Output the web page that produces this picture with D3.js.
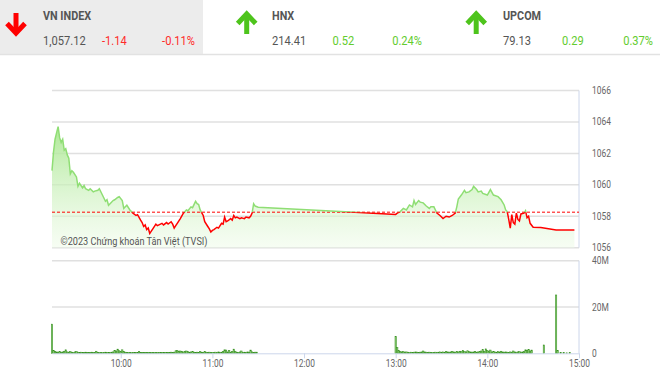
<!DOCTYPE html>
<html>
<head>
<meta charset="utf-8">
<script src="https://cdn.jsdelivr.net/npm/d3@7"></script>
<style>
  body { margin: 0; background: #fff; }
  svg { display: block; }
</style>
</head>
<body>
<svg id="chart" width="660" height="379"></svg>
<script>
const fontFamily = `Roboto, "Noto Sans", sans-serif`;

// header boxes
const indexNames = ["VN INDEX", "HNX", "UPCOM"];
const indexValues = ["1,057.12", "214.41", "79.13"];
const indexChanges = ["-1.14", "0.52", "0.29"];
const indexPercents = ["-0.11%", "0.24%", "0.37%"];

// VN-Index intraday (time, points)
const vnIndex = [
  ["09:15", 1060.9], ["09:16", 1062.1], ["09:17", 1062.9], ["09:18", 1063.3],
  ["09:19", 1063.7], ["09:20", 1063.0], ["09:21", 1062.7], ["09:22", 1062.9],
  ["09:23", 1062.2], ["09:24", 1062.3], ["09:25", 1061.9], ["09:26", 1061.7],
  ["09:27", 1060.7], ["09:28", 1060.9], ["09:29", 1060.8], ["09:31", 1060.5],
  ["09:32", 1059.9], ["09:33", 1060.1], ["09:35", 1059.8], ["09:36", 1059.95],
  ["09:37", 1059.75], ["09:39", 1059.65], ["09:40", 1059.75], ["09:42", 1059.55],
  ["09:43", 1059.6], ["09:45", 1059.65], ["09:46", 1059.75], ["09:48", 1059.35],
  ["09:50", 1058.95], ["09:51", 1059.05], ["09:52", 1058.7], ["09:53", 1058.8],
  ["09:55", 1059.0], ["09:56", 1059.05], ["09:58", 1059.2], ["09:59", 1059.25],
  ["10:01", 1059.0], ["10:02", 1058.5], ["10:03", 1058.6], ["10:04", 1058.7],
  ["10:06", 1058.4], ["10:08", 1058.2], ["10:10", 1058.05], ["10:11", 1058.1],
  ["10:13", 1057.75], ["10:14", 1057.6], ["10:15", 1057.35], ["10:16", 1057.45],
  ["10:17", 1057.15], ["10:18", 1057.25], ["10:19", 1056.9], ["10:20", 1057.05],
  ["10:21", 1057.2], ["10:23", 1057.5], ["10:24", 1057.4], ["10:25", 1057.45],
  ["10:27", 1057.55], ["10:28", 1057.45], ["10:30", 1057.6], ["10:31", 1057.5],
  ["10:33", 1057.65], ["10:34", 1057.5], ["10:35", 1057.25], ["10:36", 1057.4],
  ["10:37", 1057.55], ["10:39", 1057.85], ["10:41", 1058.2], ["10:43", 1058.4],
  ["10:44", 1058.35], ["10:46", 1058.6], ["10:47", 1058.55], ["10:49", 1058.95],
  ["10:50", 1058.8], ["10:51", 1058.75], ["10:52", 1058.4], ["10:54", 1058.05],
  ["10:55", 1057.65], ["10:57", 1057.35], ["10:58", 1057.2], ["10:59", 1057.0],
  ["11:00", 1057.1], ["11:01", 1057.15], ["11:03", 1057.3], ["11:04", 1057.25],
  ["11:06", 1057.55], ["11:07", 1057.5], ["11:08", 1057.95], ["11:09", 1057.65],
  ["11:10", 1057.7], ["11:12", 1057.85], ["11:13", 1057.75], ["11:14", 1058.05],
  ["11:15", 1057.9], ["11:16", 1057.95], ["11:18", 1057.85], ["11:19", 1057.9],
  ["11:21", 1057.85], ["11:22", 1057.95], ["11:24", 1057.9], ["11:25", 1058.0],
  ["11:26", 1058.2], ["11:27", 1058.8], ["11:28", 1058.65], ["11:30", 1058.58],
  ["13:00", 1058.12], ["13:01", 1058.2], ["13:03", 1058.3], ["13:05", 1058.5],
  ["13:07", 1058.4], ["13:09", 1058.72], ["13:11", 1058.6], ["13:12", 1059.0],
  ["13:13", 1058.75], ["13:15", 1059.0], ["13:16", 1058.9], ["13:18", 1058.85],
  ["13:20", 1058.65], ["13:22", 1058.5], ["13:23", 1058.6], ["13:25", 1058.6],
  ["13:26", 1058.4], ["13:27", 1058.2], ["13:29", 1058.05], ["13:31", 1057.85],
  ["13:33", 1058.0], ["13:35", 1057.95], ["13:37", 1058.05], ["13:39", 1058.2],
  ["13:40", 1058.6], ["13:41", 1059.1], ["13:43", 1059.35], ["13:45", 1059.65],
  ["13:46", 1059.5], ["13:48", 1059.55], ["13:50", 1059.7], ["13:51", 1059.9],
  ["13:53", 1059.7], ["13:54", 1059.55], ["13:56", 1059.6], ["13:57", 1059.45],
  ["14:00", 1059.35], ["14:02", 1059.7], ["14:04", 1059.35], ["14:07", 1059.25],
  ["14:09", 1059.05], ["14:11", 1058.72], ["14:12", 1058.4], ["14:13", 1058.3],
  ["14:14", 1057.8], ["14:15", 1057.25], ["14:16", 1058.1], ["14:17", 1057.6],
  ["14:18", 1057.5], ["14:19", 1058.2], ["14:20", 1057.8], ["14:21", 1057.7],
  ["14:22", 1058.15], ["14:24", 1058.2], ["14:25", 1058.35], ["14:26", 1057.9],
  ["14:27", 1058.0], ["14:28", 1057.55], ["14:30", 1057.3], ["14:35", 1057.28],
  ["14:45", 1057.13], ["14:57", 1057.13],
];
const referenceValue = 1058.26;
const priceTicks = [1056, 1058, 1060, 1062, 1064, 1066];

// minute volumes, millions of shares
const volMorning = [
  12.6, 1.2, 0.8, 0.6, 0.5, 0.7, 0.5, 0.6, 0.9, 1.5, 0.6, 0.5, 0.7, 0.5, 0.4, 0.6, 0.8, 0.5, 0.4, 0.5,
  0.4, 0.3, 0.5, 0.4, 0.3, 0.4, 0.5, 0.4, 0.3, 0.9, 0.4, 0.3, 0.4, 0.3, 0.4, 0.5, 0.3, 0.4, 0.3, 0.5,
  0.6, 1.2, 1.0, 1.8, 1.1, 0.7, 1.5, 0.8, 0.5, 0.4, 0.3, 0.4, 0.3, 0.4, 0.3, 0.4, 0.3, 0.7, 0.3, 0.4,
  0.3, 0.4, 0.3, 0.3, 0.4, 0.3, 0.4, 0.3, 0.3, 0.4, 0.3, 0.3, 0.4, 0.3, 0.4, 0.3, 0.3, 0.4, 0.5, 0.4,
  0.5, 1.1, 1.2, 0.9, 1.0, 0.8, 0.6, 0.9, 1.0, 0.7, 0.5, 0.6, 0.8, 0.5, 0.4, 0.5, 0.4, 0.7, 0.5, 0.4,
  0.8, 0.5, 0.4, 0.5, 0.3, 0.4, 0.3, 0.5, 0.4, 0.6, 0.4, 0.5, 0.8, 1.5, 1.4, 0.6, 1.3, 0.5, 0.8, 1.8,
  0.9, 0.5, 0.4, 0.6, 1.0, 0.4, 0.5, 0.4, 0.6, 0.5, 1.4, 0.6, 0.4, 0.5, 0.5,
];
const volAfternoon = [
  7.2, 2.5, 1.2, 0.8, 0.6, 0.7, 0.5, 0.6, 0.5, 0.4, 0.5, 0.4, 0.5, 0.6, 0.5, 0.4, 0.5, 0.6, 1.0, 0.6,
  0.5, 0.4, 0.5, 0.4, 0.3, 0.4, 0.5, 0.4, 0.5, 0.6, 0.5, 0.6, 0.5, 0.7, 0.6, 0.5, 0.6, 0.8, 0.6, 0.5,
  0.7, 0.6, 0.9, 0.7, 1.3, 0.8, 0.6, 1.1, 0.7, 0.6, 0.5, 0.6, 0.8, 0.5, 0.6, 0.7, 1.0, 1.6, 0.8, 1.9,
  1.2, 0.7, 1.4, 0.6, 0.8, 0.6, 0.5, 0.7, 0.6, 0.9, 0.6, 0.5, 0.6, 0.5, 0.4, 0.6, 0.5, 1.0, 0.6, 0.5,
  0.6, 0.7, 0.5, 0.6, 0.8, 1.5, 1.2, 1.6, 1.0, 1.4,
];
const closingTimes = ["14:37", "14:45", "14:46", "14:48", "14:50", "14:52", "14:54"];
const closingVolumes = [3.6, 25.2, 1.3, 0.3, 0.3, 0.2, 0.3];
const volumeTicks = [0, 20, 40];
const timeTicks = ["10:00", "11:00", "12:00", "13:00", "14:00", "15:00"];

const parseTime = d3.timeParse("%H:%M");
const svg = d3.select("#chart").attr("font-family", fontFamily);

const plotLeft = 52;
const plotRight = 579;
const x = d3.scaleTime()
  .domain([parseTime("09:15"), parseTime("15:00")])
  .range([plotLeft, plotRight]);
const y = d3.scaleLinear().domain([1056, 1066]).range([247.7, 90.5]);
const yVol = d3.scaleLinear().domain([0, 40]).range([353.3, 260.7]);

renderHeader();
renderPrice();
renderVolume();

// the original uses a condensed face; squeeze Roboto to the same widths
function condense(selection, k) {
  selection.each(function () {
    const w = this.getComputedTextLength();
    d3.select(this)
      .attr("textLength", w * k)
      .attr("lengthAdjust", "spacingAndGlyphs");
  });
}

function renderHeader() {
  const header = svg.append("g").attr("id", "header");
  header.append("rect")
    .attr("x", 0).attr("y", 0).attr("width", 203).attr("height", 54)
    .attr("fill", "#ececec");
  header.append("line")
    .attr("x1", 0).attr("x2", 660).attr("y1", 54.5).attr("y2", 54.5)
    .attr("stroke", "#e2e2e2").attr("stroke-width", 1.5);

  const boxes = [
    { left: 43, arrowX: 16, up: false, chgX: 102, pctX: 195 },
    { left: 272, arrowX: 246.7, up: true, chgX: 332.5, pctX: 422 },
    { left: 503, arrowX: 476.2, up: true, chgX: 562, pctX: 653 },
  ];
  boxes.forEach((b, i) => {
    const color = b.up ? "#4ec41c" : "#ff0000";
    const textColor = b.up ? "#63cc2e" : "#ff2a2a";
    const g = header.append("g");
    const tip = b.up ? 14 : 33;
    const tail = b.up ? 34 : 13;
    const wing = b.up ? tip + 9.5 : tip - 9.5;
    g.append("path")
      .attr("d", `M${b.arrowX},${tail}V${tip + (b.up ? 3 : -3)}`)
      .attr("stroke", color).attr("stroke-width", 5).attr("fill", "none");
    g.append("path")
      .attr("d", `M${b.arrowX - 9},${wing}L${b.arrowX},${tip}L${b.arrowX + 9},${wing}`)
      .attr("stroke", color).attr("stroke-width", 5).attr("fill", "none")
      .attr("stroke-linejoin", "miter").attr("stroke-miterlimit", 4);

    g.append("text")
      .attr("x", b.left).attr("y", 20)
      .attr("font-size", 12).attr("font-weight", "bold").attr("fill", "#555")
      .text(indexNames[i])
      .call(condense, 0.9);
    g.append("text")
      .attr("x", b.left).attr("y", 45)
      .attr("font-size", 12.5).attr("fill", "#555")
      .text(indexValues[i])
      .call(condense, 0.89);
    g.append("text")
      .attr("x", b.chgX).attr("y", 45)
      .attr("font-size", 12.5).attr("fill", textColor)
      .text(indexChanges[i])
      .call(condense, 0.89);
    g.append("text")
      .attr("x", b.pctX).attr("y", 45)
      .attr("text-anchor", "end")
      .attr("font-size", 12.5).attr("fill", textColor)
      .text(indexPercents[i])
      .call(condense, 0.89);
  });
}

function renderPrice() {
  const data = vnIndex.map(([t, v]) => ({ t: parseTime(t), v }));
  const g = svg.append("g").attr("id", "price");
  const refY = y(referenceValue);

  const defs = svg.append("defs");
  const grad = defs.append("linearGradient")
    .attr("id", "areaFill")
    .attr("gradientUnits", "userSpaceOnUse")
    .attr("x1", 0).attr("x2", 0)
    .attr("y1", y(1064)).attr("y2", y(1056));
  grad.append("stop").attr("offset", 0).attr("stop-color", "#a6e68c").attr("stop-opacity", 0.95);
  grad.append("stop").attr("offset", 0.5).attr("stop-color", "#c8f0b8").attr("stop-opacity", 0.7);
  grad.append("stop").attr("offset", 1).attr("stop-color", "#eefbe8").attr("stop-opacity", 0.5);

  defs.append("clipPath").attr("id", "aboveRef")
    .append("rect").attr("x", 0).attr("y", 0).attr("width", 660).attr("height", refY);
  defs.append("clipPath").attr("id", "belowRef")
    .append("rect").attr("x", 0).attr("y", refY).attr("width", 660).attr("height", 379 - refY);

  // grid
  g.append("g")
    .selectAll("line")
    .data(priceTicks)
    .join("line")
    .attr("x1", plotLeft).attr("x2", plotRight)
    .attr("y1", (d) => y(d)).attr("y2", (d) => y(d))
    .attr("stroke", "#e0e0e0").attr("stroke-width", 1.5);

  g.append("line")
    .attr("x1", plotRight).attr("x2", plotRight)
    .attr("y1", y(1066)).attr("y2", y(1056))
    .attr("stroke", "#ccd6eb");

  g.append("g")
    .attr("font-size", 10).attr("fill", "#666")
    .selectAll("text")
    .data(priceTicks)
    .join("text")
    .attr("x", 592).attr("y", (d) => y(d) + 3.5)
    .text((d) => d)
    .call(condense, 0.84);

  const area = d3.area()
    .x((d) => x(d.t))
    .y0(y(1056))
    .y1((d) => y(d.v));
  g.append("path")
    .datum(data)
    .attr("d", area)
    .attr("fill", "url(#areaFill)");

  g.append("text")
    .attr("x", 60.5).attr("y", 244.5)
    .attr("font-size", 11).attr("fill", "#555")
    .attr("textLength", 147)
    .attr("lengthAdjust", "spacingAndGlyphs")
    .text("©2023 Chứng khoán Tân Việt (TVSI)");

  g.append("line")
    .attr("x1", plotLeft).attr("x2", plotRight)
    .attr("y1", refY).attr("y2", refY)
    .attr("stroke", "#ff0000").attr("stroke-width", 1)
    .attr("stroke-dasharray", "3,2");

  const line = d3.line().x((d) => x(d.t)).y((d) => y(d.v));
  g.append("path")
    .datum(data)
    .attr("d", line)
    .attr("fill", "none")
    .attr("stroke", "#8fde74")
    .attr("stroke-width", 1.5)
    .attr("clip-path", "url(#aboveRef)");
  g.append("path")
    .datum(data)
    .attr("d", line)
    .attr("fill", "none")
    .attr("stroke", "#ff0000")
    .attr("stroke-width", 1.5)
    .attr("clip-path", "url(#belowRef)");
}

function renderVolume() {
  const g = svg.append("g").attr("id", "volume");
  const start = parseTime("09:15");
  const afternoon = parseTime("13:00");
  const bars = [
    ...volMorning.map((v, i) => ({ t: d3.timeMinute.offset(start, i), v })),
    ...volAfternoon.map((v, i) => ({ t: d3.timeMinute.offset(afternoon, i), v })),
    ...closingTimes.map((t, i) => ({ t: parseTime(t), v: closingVolumes[i] })),
  ];

  g.append("g")
    .selectAll("line")
    .data(volumeTicks.filter((d) => d > 0))
    .join("line")
    .attr("x1", plotLeft).attr("x2", plotRight)
    .attr("y1", (d) => yVol(d)).attr("y2", (d) => yVol(d))
    .attr("stroke", "#e0e0e0").attr("stroke-width", 1.5);

  g.append("line")
    .attr("x1", plotRight).attr("x2", plotRight)
    .attr("y1", yVol(40)).attr("y2", yVol(0))
    .attr("stroke", "#ccd6eb");

  g.append("g")
    .attr("font-size", 10).attr("fill", "#666")
    .selectAll("text")
    .data(volumeTicks)
    .join("text")
    .attr("x", 592).attr("y", (d) => yVol(d) + 3.5)
    .text((d) => (d ? d + "M" : "0"))
    .call(condense, 0.84);

  g.append("g")
    .selectAll("rect")
    .data(bars)
    .join("rect")
    .attr("x", (d) => x(d.t) - 0.7)
    .attr("width", 1.4)
    .attr("y", (d) => yVol(d.v))
    .attr("height", (d) => yVol(0) - yVol(d.v))
    .attr("fill", "#8acb74")
    .attr("stroke", "#2d8a16")
    .attr("stroke-width", 0.5);

  const xAxis = d3.axisBottom(x)
    .tickValues(timeTicks.map(parseTime))
    .tickFormat(d3.timeFormat("%H:%M"))
    .tickSize(5)
    .tickSizeOuter(0);
  const axis = g.append("g")
    .attr("transform", `translate(0,${yVol(0)})`)
    .call(xAxis);
  axis.select(".domain").attr("stroke", "#ccd6eb");
  axis.selectAll(".tick line").attr("stroke", "#ccd6eb");
  axis.selectAll(".tick text")
    .attr("font-family", fontFamily)
    .attr("font-size", 10)
    .attr("fill", "#666")
    .attr("dy", "0.6em")
    .call(condense, 0.84);
}
</script>
</body>
</html>
